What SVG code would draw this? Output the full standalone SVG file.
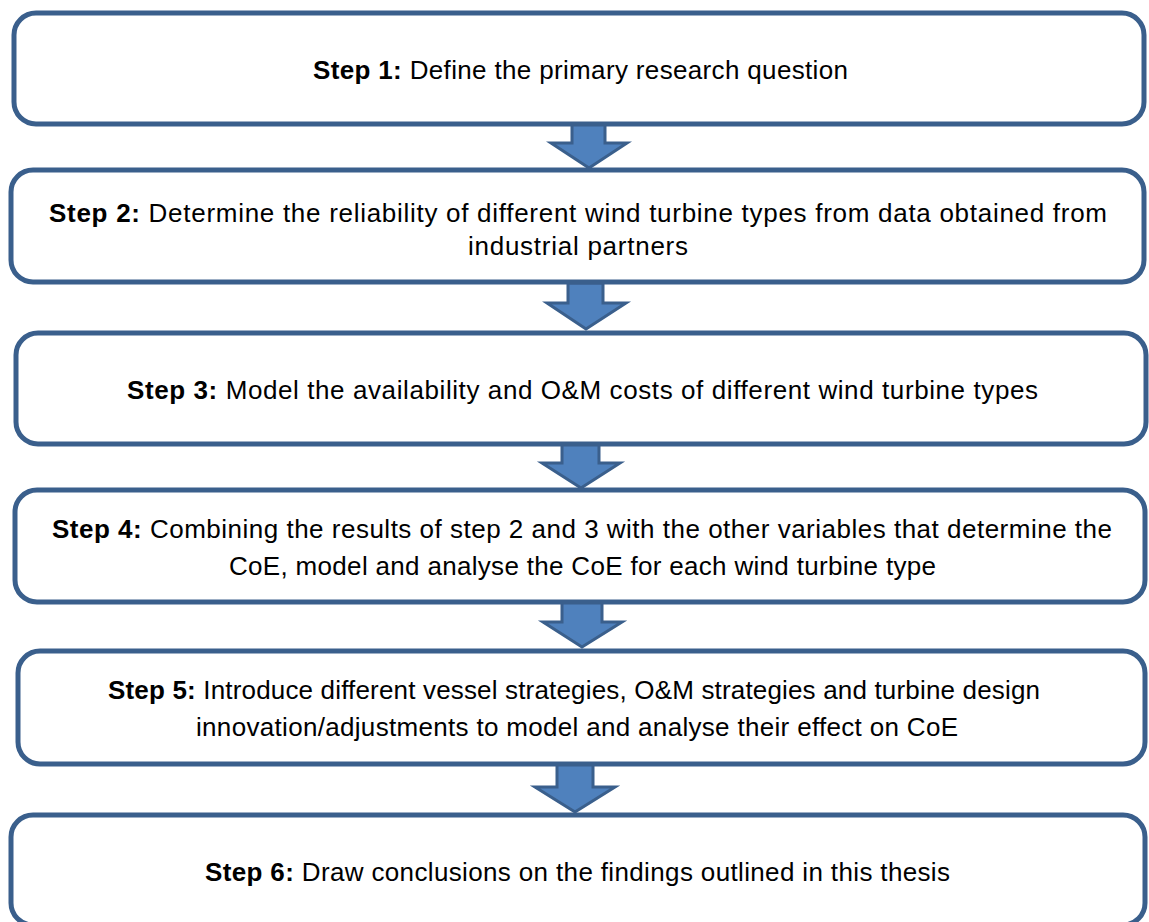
<svg xmlns="http://www.w3.org/2000/svg" width="1149" height="922" viewBox="0 0 1149 922">
<style>
.box{fill:#fff;stroke:#3a5f8c;stroke-width:5}
.arr{fill:#4f81bd;stroke:#3a5f8c;stroke-width:3;stroke-linejoin:miter}
text{font-family:"Liberation Sans",Arial,sans-serif;font-size:26px;fill:#000;text-anchor:middle}
.b{font-weight:bold}
</style>
<rect width="1149" height="922" fill="#fff"/>
<g id="connectors">
<path class="arr" d="M572,124 H605 V143 H627 L589,168 L551,143 H572 Z"/>
<path class="arr" d="M568,283 H603 V303 H626 L586,329 L547,303 H568 Z"/>
<path class="arr" d="M562,444 H599 V463 H620 L581,488 L542,463 H562 Z"/>
<path class="arr" d="M562,602 H602 V622 H622 L582,647 L543,622 H562 Z"/>
<path class="arr" d="M557,764 H593 V787 H615 L575,812 L535,787 H557 Z"/>
</g>
<g id="step1">
<rect class="box" x="14" y="13" width="1130" height="111" rx="22"/>
<text x="580.5" y="79" textLength="535" lengthAdjust="spacing"><tspan class="b">Step 1:</tspan> Define the primary research question</text>
</g>
<g id="step2">
<rect class="box" x="11" y="170" width="1133" height="112" rx="22"/>
<text x="578" y="222" textLength="1058" lengthAdjust="spacing"><tspan class="b">Step 2:</tspan> Determine the reliability of different wind turbine types from data obtained from</text>
<text x="578" y="255" textLength="220" lengthAdjust="spacing">industrial partners</text>
</g>
<g id="step3">
<rect class="box" x="16" y="333" width="1130" height="111" rx="22"/>
<text x="582.5" y="399" textLength="911" lengthAdjust="spacing"><tspan class="b">Step 3:</tspan> Model the availability and O&amp;M costs of different wind turbine types</text>
</g>
<g id="step4">
<rect class="box" x="15" y="490" width="1130" height="112" rx="22"/>
<text x="582" y="538" textLength="1060" lengthAdjust="spacing"><tspan class="b">Step 4:</tspan> Combining the results of step 2 and 3 with the other variables that determine the</text>
<text x="582.5" y="575" textLength="707" lengthAdjust="spacing">CoE, model and analyse the CoE for each wind turbine type</text>
</g>
<g id="step5">
<rect class="box" x="18" y="651" width="1127" height="113" rx="22"/>
<text x="574" y="699" textLength="932" lengthAdjust="spacing"><tspan class="b">Step 5:</tspan> Introduce different vessel strategies, O&amp;M strategies and turbine design</text>
<text x="577" y="736" textLength="762" lengthAdjust="spacing">innovation/adjustments to model and analyse their effect on CoE</text>
</g>
<g id="step6">
<rect class="box" x="11" y="815" width="1134" height="110" rx="22"/>
<text x="577.5" y="881" textLength="745" lengthAdjust="spacing"><tspan class="b">Step 6:</tspan> Draw conclusions on the findings outlined in this thesis</text>
</g>
</svg>
